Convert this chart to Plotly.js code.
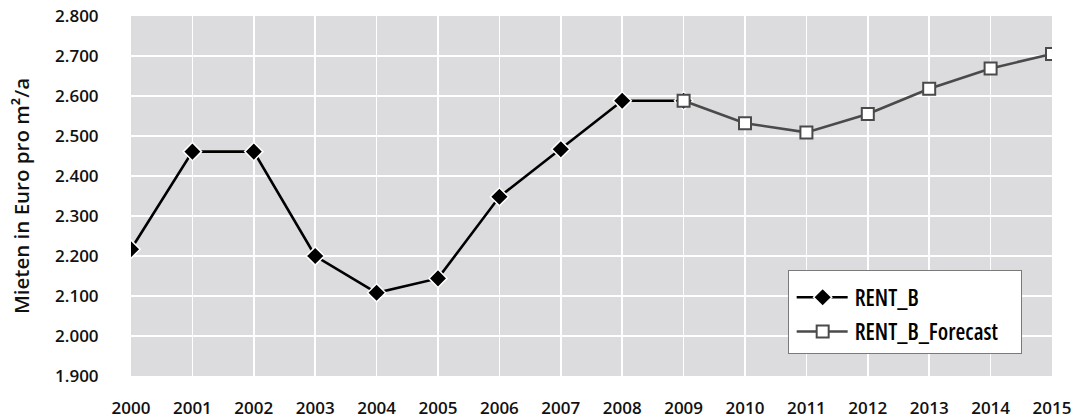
<!DOCTYPE html>
<html>
<head>
<meta charset="utf-8">
<script src="https://cdn.plot.ly/plotly-3.0.1.min.js"></script>
<style>
  html, body { margin: 0; padding: 0; background: #ffffff; }
  #chart { width: 1077px; height: 420px; }
  /* legend entries use the narrower cut of the face */
  #chart .legendtext { font-stretch: semi-condensed; }
</style>
</head>
<body>
<div id="chart"></div>
<script>
// Rents in euro per m² per year, observed and forecast
const yearsActual = [2000, 2001, 2002, 2003, 2004, 2005, 2006, 2007, 2008, 2009];
const rentActual = [2217, 2461, 2461, 2200, 2108, 2144, 2348, 2467, 2588, 2588];

const yearsForecast = [2009, 2010, 2011, 2012, 2013, 2014, 2015];
const rentForecast = [2588, 2532, 2509, 2555, 2618, 2669, 2705];

const yearTicks = [2000, 2001, 2002, 2003, 2004, 2005, 2006, 2007, 2008, 2009, 2010, 2011, 2012, 2013, 2014, 2015];
const yTicks = [1900, 2000, 2100, 2200, 2300, 2400, 2500, 2600, 2700, 2800];
const yTickLabels = ['1.900', '2.000', '2.100', '2.200', '2.300', '2.400', '2.500', '2.600', '2.700', '2.800'];

const font = 'Open Sans, DejaVu Sans, sans-serif';
const ink = '#111111';

const traces = [
  {
    x: yearsActual, y: rentActual, name: 'RENT_B', legendgroup: 'a',
    type: 'scatter', mode: 'lines+markers',
    line: { color: '#000000', width: 2.6 },
    marker: { symbol: 'diamond', size: 14, color: '#000000', line: { color: '#ffffff', width: 1.5 } }
  },
  {
    x: yearsForecast, y: rentForecast, name: 'RENT_B_Forecast', legendgroup: 'b',
    type: 'scatter', mode: 'lines+markers',
    line: { color: '#4a4a4a', width: 2.6 },
    marker: { symbol: 'square', size: 12, color: '#ffffff', line: { color: '#4a4a4a', width: 2 } }
  }
];

const layout = {
  width: 1077, height: 420,
  margin: { l: 131, r: 25, t: 16, b: 44 },
  paper_bgcolor: '#ffffff',
  plot_bgcolor: '#dcdcde',
  font: { family: font, size: 17, color: ink, weight: 600 },
  xaxis: {
    range: [2000, 2015],
    tickvals: yearTicks,
    ticktext: yearTicks.map(String),
    showgrid: true, gridcolor: '#ffffff', gridwidth: 1.5,
    zeroline: false, showline: false,
    ticks: 'outside', ticklen: 17, tickcolor: 'rgba(0,0,0,0)',
    tickfont: { family: font, size: 17, color: ink, weight: 600 },
    fixedrange: true
  },
  yaxis: {
    range: [1900, 2800],
    tickvals: yTicks,
    ticktext: yTickLabels,
    showgrid: true, gridcolor: '#ffffff', gridwidth: 1.5,
    zeroline: false, showline: false,
    ticks: 'outside', ticklen: 28, tickcolor: 'rgba(0,0,0,0)',
    tickfont: { family: font, size: 17, color: ink, weight: 600 },
    title: { text: 'Mieten in Euro pro m²/a', font: { family: font, size: 20.5, color: ink, weight: 600 }, standoff: 19 },
    fixedrange: true
  },
  showlegend: true,
  legend: {
    x: 0.713, y: 0.294, xanchor: 'left', yanchor: 'top',
    bgcolor: '#ffffff', bordercolor: '#7a7a7a', borderwidth: 1,
    font: { family: font, size: 22.5, color: '#000000', weight: 600 },
    tracegroupgap: 2, itemwidth: 56
  }
};

// legend frame size in px
const legendBoxW = 233, legendBoxH = 83, legendShiftY = 5;

const gd = document.getElementById('chart');
Plotly.newPlot(gd, traces, layout, { displayModeBar: false, staticPlot: true }).then(() => {
  const leg = gd.querySelector('.legend');
  if (!leg) return;
  // stretch the legend sample lines across the wider symbol column
  leg.querySelectorAll('.traces').forEach(item => {
    const seg = item.querySelector('.legendlines path');
    if (seg) seg.setAttribute('d', 'M8,0h51');
    const pts = item.querySelector('.legendpoints');
    if (pts) pts.querySelectorAll('path').forEach(p => {
      const t = p.getAttribute('transform') || '';
      p.setAttribute('transform', t.replace(/translate\(\s*[-\d.]+/, 'translate(34'));
    });
    const m = /translate\(\s*([-\d.]+)[ ,]+([-\d.]+)\s*\)/.exec(item.getAttribute('transform') || '');
    if (m) item.setAttribute('transform', 'translate(' + m[1] + ',' + (parseFloat(m[2]) + legendShiftY) + ')');
  });
  // fit the frame to the narrower entry text
  const bg = leg.querySelector('rect.bg');
  if (bg) { bg.setAttribute('width', legendBoxW); bg.setAttribute('height', legendBoxH); }
  const box = leg.querySelector('.scrollbox');
  const clip = box && box.getAttribute('clip-path');
  const idm = clip && /#([^)"']+)/.exec(clip);
  const cr = idm && document.getElementById(idm[1]);
  const rect = cr && cr.querySelector('rect');
  if (rect) { rect.setAttribute('width', legendBoxW); rect.setAttribute('height', legendBoxH); }
});
</script>
</body>
</html>
